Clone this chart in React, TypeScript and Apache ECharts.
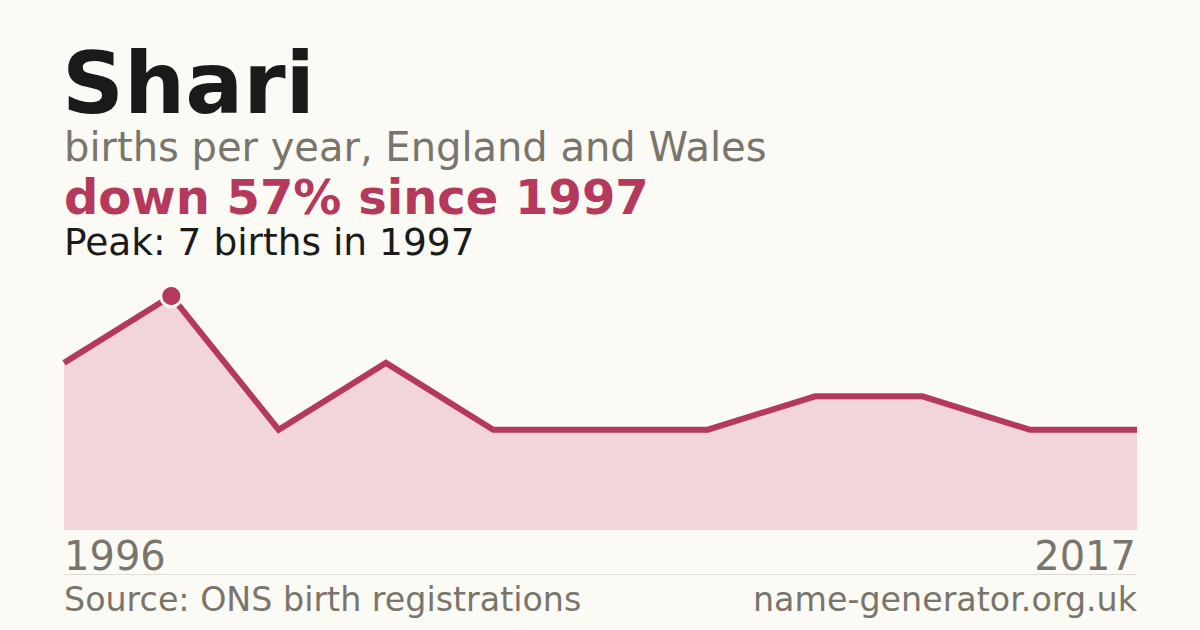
import { useEffect, useRef } from 'react';
import * as echarts from 'echarts';

// births per year (only years shown on the chart)
const years = ['1996', '1997', '1998', '1999', '2000', '2002', '2004', '2006', '2008', '2011', '2017'];
const births = [5, 7, 3, 5, 3, 3, 3, 4, 4, 3, 3];

const title = 'Shari';
const subtitle = 'births per year, England and Wales';
const headline = 'down 57% since 1997';
const peakNote = 'Peak: 7 births in 1997';
const source = 'Source: ONS birth registrations';
const site = 'name-generator.org.uk';

const BG = '#fbfaf5';
const RED = '#b5395a';
const GREY = '#7a756c';
const FONT = 'DejaVu Sans';

export default function App() {
  const chartRef = useRef<HTMLDivElement>(null);

  useEffect(() => {
    if (!chartRef.current) return;
    document.body.style.margin = '0';
    document.body.style.background = BG;
    const chart = echarts.init(chartRef.current, null, { renderer: 'svg' });

    const peakIdx = births.indexOf(Math.max(...births));

    const txt = (text: string, x: number, y: number, size: number, color: string, weight = 'normal', align = 'left') => ({
      type: 'text',
      x,
      y,
      silent: true,
      style: { text, fill: color, fontSize: size, fontFamily: FONT, fontWeight: weight, align, verticalAlign: 'middle' },
    });

    chart.setOption({
      animation: false,
      backgroundColor: BG,
      grid: { left: 64, right: 63, top: 296, bottom: 100 },
      xAxis: {
        type: 'category',
        data: years,
        boundaryGap: false,
        show: false,
      },
      yAxis: { type: 'value', min: 0, max: 7, show: false },
      series: [
        {
          type: 'line',
          data: births,
          symbol: 'circle',
          showAllSymbol: true,
          symbolSize: (_v: number, p: { dataIndex: number }) => (p.dataIndex === peakIdx ? 21 : 0),
          itemStyle: { color: RED, borderColor: BG, borderWidth: 3 },
          lineStyle: { color: RED, width: 6, join: 'miter' },
          areaStyle: { color: '#f2d5da', opacity: 1 },
          z: 2,
        },
      ],
      graphic: [
        txt(title, 62, 83, 86, '#1a1a1a', 'bold'),
        txt(subtitle, 64, 147, 40, GREY),
        txt(headline, 64, 197, 48, RED, 'bold'),
        txt(peakNote, 64, 242, 37.5, '#1a1a1a'),
        txt(years[0], 64, 556, 40, GREY),
        txt(years[years.length - 1], 1136, 556, 40, GREY, 'normal', 'right'),
        {
          type: 'line',
          silent: true,
          shape: { x1: 64, y1: 574.5, x2: 1137, y2: 574.5 },
          style: { stroke: '#dedbd3', lineWidth: 1 },
        },
        txt(source, 64, 599, 33.3, GREY),
        txt(site, 1137, 599, 33.3, GREY, 'normal', 'right'),
      ],
    });

    return () => {
      chart.dispose();
    };
  }, []);

  return <div ref={chartRef} style={{ width: 1200, height: 630 }}></div>;
}
